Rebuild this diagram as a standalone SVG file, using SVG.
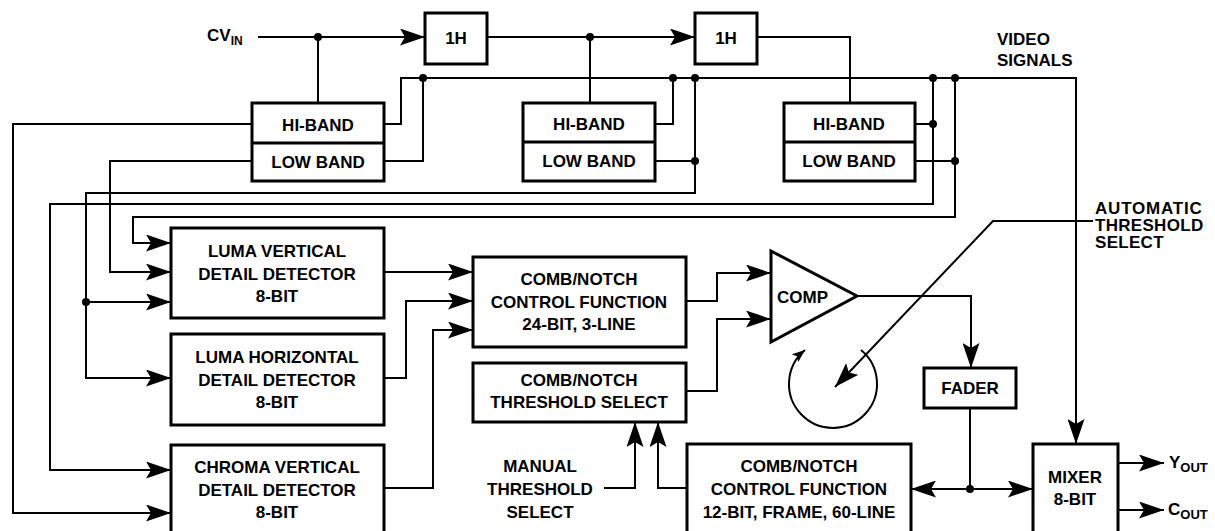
<svg xmlns="http://www.w3.org/2000/svg" width="1215" height="531" viewBox="0 0 1215 531">
<style>
.box{fill:#fff;stroke:#000;stroke-width:3}
.w{fill:none;stroke:#000;stroke-width:2}
.t{font-family:"Liberation Sans",Arial,sans-serif;font-weight:bold;font-size:17px;fill:#000;text-anchor:middle}
.l{font-family:"Liberation Sans",Arial,sans-serif;font-weight:bold;font-size:17px;fill:#000}
.dot{fill:#000}
</style>
<defs>
<marker id="a" markerUnits="userSpaceOnUse" markerWidth="26" markerHeight="17" refX="25" refY="8.5" orient="auto"><path d="M0,0 L25,8.5 L0,17 L5,8.5 z" fill="#000"/></marker>
<marker id="s" markerUnits="userSpaceOnUse" markerWidth="14" markerHeight="10" refX="13" refY="5" orient="auto"><path d="M0,0 L13,5 L0,10 L3,5 z" fill="#000"/></marker>
</defs>
<rect width="1215" height="531" fill="#fff"/>

<g id="connectors">
<path class="w" d="M258,37 H425" marker-end="url(#a)"/>
<path class="w" d="M487,37 H695" marker-end="url(#a)"/>
<path class="w" d="M757,37 H850 V103"/>
<path class="w" d="M318,37 V103"/>
<path class="w" d="M590,37 V103"/>
<path class="w" d="M384,124 H401 V78 H1076 V444" marker-end="url(#a)"/>
<path class="w" d="M384,161 H423 V78"/>
<path class="w" d="M655,124 H673 V78"/>
<path class="w" d="M655,161 H695"/>
<path class="w" d="M695,78 V193 H86 V378 H171" marker-end="url(#a)"/>
<path class="w" d="M86,302 H171" marker-end="url(#a)"/>
<path class="w" d="M915,124 H933"/>
<path class="w" d="M933,78 V204 H50 V470 H171" marker-end="url(#a)"/>
<path class="w" d="M915,161 H955"/>
<path class="w" d="M955,78 V217 H133 V243 H171" marker-end="url(#a)"/>
<path class="w" d="M252,124 H13 V513 H171" marker-end="url(#a)"/>
<path class="w" d="M252,161 H110 V272 H171" marker-end="url(#a)"/>
<path class="w" d="M384,272 H473" marker-end="url(#a)"/>
<path class="w" d="M384,378 H406 V301 H473" marker-end="url(#a)"/>
<path class="w" d="M384,488 H433 V330 H473" marker-end="url(#a)"/>
<path class="w" d="M686,301 H717 V273 H771" marker-end="url(#a)"/>
<path class="w" d="M686,391 H717 V319 H771" marker-end="url(#a)"/>
<path class="w" d="M857,296 H971 V368" marker-end="url(#a)"/>
<path class="w" d="M970,408 V489"/>
<path class="w" d="M970,489 H911" marker-end="url(#a)"/>
<path class="w" d="M970,489 H1033" marker-end="url(#a)"/>
<path class="w" d="M1118,463 H1164" marker-end="url(#a)"/>
<path class="w" d="M1118,510 H1164" marker-end="url(#a)"/>
<path class="w" d="M604,488 H635 V422" marker-end="url(#a)"/>
<path class="w" d="M687,488 H658 V422" marker-end="url(#a)"/>
<path class="w" d="M1093,221 H993 L835,387" marker-end="url(#a)"/>
<path class="w" d="M861,350 A44,44 0 1 1 805,350" stroke-width="2.5" marker-end="url(#s)"/>
<circle class="dot" cx="318" cy="37" r="4"/>
<circle class="dot" cx="590" cy="37" r="4"/>
<circle class="dot" cx="423" cy="78" r="4"/>
<circle class="dot" cx="673" cy="78" r="4"/>
<circle class="dot" cx="695" cy="78" r="4"/>
<circle class="dot" cx="933" cy="78" r="4"/>
<circle class="dot" cx="955" cy="78" r="4"/>
<circle class="dot" cx="695" cy="161" r="4"/>
<circle class="dot" cx="933" cy="124" r="4"/>
<circle class="dot" cx="955" cy="161" r="4"/>
<circle class="dot" cx="86" cy="302" r="4"/>
<circle class="dot" cx="970" cy="489" r="4"/>
</g>

<g id="labels">
<text class="l" x="207" y="41" font-size="17">CV<tspan font-size="12" dy="4">IN</tspan></text>
<text class="l" x="997" y="45" font-size="16">VIDEO</text>
<text class="l" x="997" y="66" font-size="16">SIGNALS</text>
<text class="l" x="1095" y="214" font-size="18" letter-spacing="0.8">AUTOMATIC</text>
<text class="l" x="1095" y="231" font-size="18" letter-spacing="0.3">THRESHOLD</text>
<text class="l" x="1095" y="248" font-size="18" letter-spacing="0.3">SELECT</text>
<text class="t" x="540" y="472">MANUAL</text>
<text class="t" x="540" y="495">THRESHOLD</text>
<text class="t" x="540" y="518">SELECT</text>
<text class="l" x="1169" y="468">Y<tspan font-size="13" dy="4">OUT</tspan></text>
<text class="l" x="1168" y="515">C<tspan font-size="13" dy="4">OUT</tspan></text>
</g>

<g id="delay1">
<rect class="box" x="425" y="13" width="62" height="51"/>
<text class="t" x="456" y="44" font-size="16">1H</text>
</g>
<g id="delay2">
<rect class="box" x="695" y="13" width="62" height="51"/>
<text class="t" x="726" y="44" font-size="16">1H</text>
</g>

<g id="filter1">
<rect class="box" x="252" y="103" width="132" height="78"/>
<line x1="252" y1="143" x2="384" y2="143" stroke="#000" stroke-width="3"/>
<text class="t" x="318" y="131">HI-BAND</text>
<text class="t" x="318" y="168">LOW BAND</text>
</g>
<g id="filter2">
<rect class="box" x="523" y="103" width="132" height="78"/>
<line x1="523" y1="142" x2="655" y2="142" stroke="#000" stroke-width="3"/>
<text class="t" x="589" y="130">HI-BAND</text>
<text class="t" x="589" y="167">LOW BAND</text>
</g>
<g id="filter3">
<rect class="box" x="784" y="103" width="131" height="78"/>
<line x1="784" y1="142" x2="915" y2="142" stroke="#000" stroke-width="3"/>
<text class="t" x="849" y="130">HI-BAND</text>
<text class="t" x="849" y="167">LOW BAND</text>
</g>

<g id="luma-vertical">
<rect class="box" x="171" y="228" width="213" height="90"/>
<text class="t" x="277" y="257">LUMA VERTICAL</text>
<text class="t" x="277" y="280">DETAIL DETECTOR</text>
<text class="t" x="277" y="302">8-BIT</text>
</g>
<g id="luma-horizontal">
<rect class="box" x="171" y="334" width="213" height="91"/>
<text class="t" x="277" y="363">LUMA HORIZONTAL</text>
<text class="t" x="277" y="386">DETAIL DETECTOR</text>
<text class="t" x="277" y="408">8-BIT</text>
</g>
<g id="chroma-vertical">
<rect class="box" x="171" y="445" width="213" height="100"/>
<text class="t" x="277" y="473">CHROMA VERTICAL</text>
<text class="t" x="277" y="496">DETAIL DETECTOR</text>
<text class="t" x="277" y="518">8-BIT</text>
</g>

<g id="comb-control-3line">
<rect class="box" x="473" y="257" width="213" height="90"/>
<text class="t" x="579" y="285">COMB/NOTCH</text>
<text class="t" x="579" y="308">CONTROL FUNCTION</text>
<text class="t" x="579" y="330">24-BIT, 3-LINE</text>
</g>
<g id="threshold-select">
<rect class="box" x="473" y="363" width="213" height="59"/>
<text class="t" x="579" y="386">COMB/NOTCH</text>
<text class="t" x="579" y="408">THRESHOLD SELECT</text>
</g>
<g id="comb-control-frame">
<rect class="box" x="687" y="444" width="224" height="100"/>
<text class="t" x="799" y="472">COMB/NOTCH</text>
<text class="t" x="799" y="495">CONTROL FUNCTION</text>
<text class="t" x="799" y="518">12-BIT, FRAME, 60-LINE</text>
</g>

<g id="comp">
<polygon points="771,251 857,296 771,342" fill="#fff" stroke="#000" stroke-width="3" stroke-linejoin="miter"/>
<text class="l" x="777" y="303" font-size="16">COMP</text>
</g>

<g id="fader">
<rect class="box" x="924" y="368" width="92" height="40"/>
<text class="t" x="970" y="394" font-size="16">FADER</text>
</g>

<g id="mixer">
<rect class="box" x="1033" y="444" width="85" height="100"/>
<text class="t" x="1075" y="483">MIXER</text>
<text class="t" x="1075" y="505">8-BIT</text>
</g>
</svg>
